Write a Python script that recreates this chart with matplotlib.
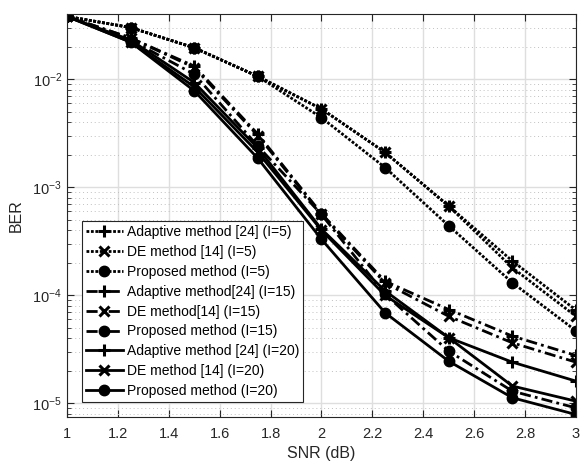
import numpy as np
import matplotlib
matplotlib.use("Agg")
import matplotlib.pyplot as plt

plt.rcParams['font.family'] = ['Liberation Sans', 'DejaVu Sans']

# Datos
snr = [1.0, 1.25, 1.5, 1.75, 2.0, 2.25, 2.5, 2.75, 3.0]

adaptive_5 = [0.038, 0.030, 0.0195, 0.0106, 0.0053, 0.0021, 6.7e-4, 2.08e-4, 7.3e-5]
de_5 = [0.038, 0.030, 0.0195, 0.0106, 0.0053, 0.0021, 6.7e-4, 1.80e-4, 6.4e-5]
proposed_5 = [0.038, 0.030, 0.0195, 0.0106, 0.0044, 0.00152, 4.4e-4, 1.31e-4, 4.7e-5]

adaptive_15 = [0.038, 0.024, 0.0132, 0.0031, 5.7e-4, 1.35e-4, 7.4e-5, 4.2e-5, 2.78e-5]
de_15 = [0.038, 0.024, 0.0128, 0.0030, 5.6e-4, 1.30e-4, 6.4e-5, 3.64e-5, 2.41e-5]
proposed_15 = [0.038, 0.023, 0.0111, 0.0024, 5.6e-4, 1.02e-4, 3.05e-5, 1.30e-5, 9.1e-6]

adaptive_20 = [0.038, 0.023, 0.0093, 0.0023, 4.1e-4, 1.10e-4, 4.06e-5, 2.41e-5, 1.61e-5]
de_20 = [0.038, 0.022, 0.0085, 0.0021, 4.0e-4, 1.0e-4, 4.06e-5, 1.45e-5, 1.05e-5]
proposed_20 = [0.038, 0.022, 0.0078, 0.00185, 3.3e-4, 6.9e-5, 2.46e-5, 1.13e-5, 7.9e-6]

labels = [
    'Adaptive method [24] (I=5)',
    'DE method [14] (I=5)',
    'Proposed method (I=5)',
    'Adaptive method[24] (I=15)',
    'DE method[14] (I=15)',
    'Proposed method (I=15)',
    'Adaptive method [24] (I=20)',
    'DE method [14] (I=20)',
    'Proposed method (I=20)',
]

series = [adaptive_5, de_5, proposed_5,
          adaptive_15, de_15, proposed_15,
          adaptive_20, de_20, proposed_20]
punteado = (0, (1, 0.6))
rayapunto = (0, (4, 1.5, 1, 1.5))
estilos = [punteado] * 3 + [rayapunto] * 3 + ['-'] * 3
marcas = ['+', 'x', 'o'] * 3

fig = plt.figure(figsize=(5.84, 4.68), dpi=100)
ax = fig.add_axes([0.1147, 0.109, 0.8716, 0.861])

for y, ls, mk, lab in zip(series, estilos, marcas, labels):
    if mk == 'o':
        ax.plot(snr, y, linestyle=ls, marker=mk, color='k', linewidth=2,
                markersize=7.5, markerfacecolor='k', label=lab)
    elif mk == 'x':
        ax.plot(snr, y, linestyle=ls, marker=mk, color='k', linewidth=2,
                markersize=7, markeredgewidth=2.2, label=lab)
    else:
        ax.plot(snr, y, linestyle=ls, marker=mk, color='k', linewidth=2,
                markersize=9, markeredgewidth=2.2, label=lab)

ax.set_yscale('log')
ax.set_xlim(1, 3)
ax.set_ylim(7.5e-6, 0.04)
ax.set_xticks(np.arange(1, 3.01, 0.2))
ax.set_xticklabels(['1', '1.2', '1.4', '1.6', '1.8', '2', '2.2', '2.4', '2.6', '2.8', '3'])

ax.grid(True, which='major', color='#dedede', linestyle='-', linewidth=1)
ax.grid(True, which='minor', axis='y', color='#c0c0c0', linestyle=(0, (1, 3)), linewidth=0.7)
ax.set_axisbelow(True)

ax.tick_params(which='both', direction='in', top=True, right=True,
               labelsize=10.5, colors='#262626', labelcolor='#262626')
ax.tick_params(which='major', length=5)
ax.tick_params(axis='x', which='major', pad=7)
ax.tick_params(which='minor', length=3)
ax.tick_params(axis='x', which='minor', top=False, bottom=False)
for s in ax.spines.values():
    s.set_color('#262626')
    s.set_linewidth(0.8)

ax.set_xlabel('SNR (dB)', fontsize=11.5, color='#262626', labelpad=4)
ax.set_ylabel('BER', fontsize=11.5, color='#262626', labelpad=6)

leg = ax.legend(loc='lower left', bbox_to_anchor=(0.03, 0.037), fontsize=10,
                handlelength=2.6, labelspacing=0.42, handletextpad=0.3,
                borderpad=0.3, borderaxespad=0, fancybox=False,
                edgecolor='#262626', framealpha=1)
leg.get_frame().set_linewidth(0.8)

fig.savefig('out.png', dpi=100)
